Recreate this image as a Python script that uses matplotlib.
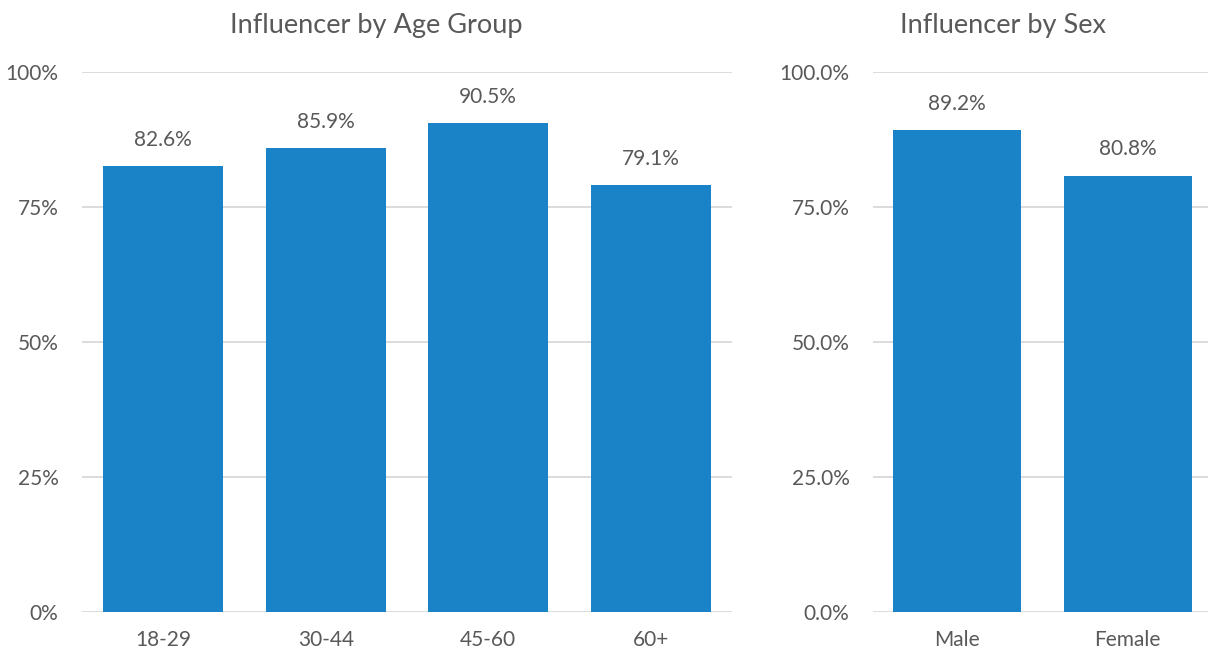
import matplotlib.pyplot as plt
from matplotlib.ticker import FuncFormatter

# data
age_groups = ['18-29', '30-44', '45-60', '60+']
age_values = [82.6, 85.9, 90.5, 79.1]
sexes = ['Male', 'Female']
sex_values = [89.2, 80.8]

BAR = '#1a82c6'
TXT = '#595959'
GRID = '#d9d9d9'

plt.rcParams['font.family'] = ['Lato', 'DejaVu Sans']

W, H = 1209, 651
fig = plt.figure(figsize=(W / 100, H / 100), dpi=100)


def px_axes(x0, x1, y0, y1):
    return fig.add_axes([x0 / W, 1 - y1 / H, (x1 - x0) / W, (y1 - y0) / H])


def style(ax, fmt):
    ax.set_ylim(0, 100)
    ax.set_yticks([0, 25, 50, 75, 100])
    ax.yaxis.set_major_formatter(FuncFormatter(fmt))
    ax.grid(axis='y', color=GRID, linewidth=1.3)
    ax.set_axisbelow(True)
    for s in ax.spines.values():
        s.set_visible(False)
    ax.tick_params(length=0, labelsize=15, labelcolor=TXT)
    ax.tick_params(axis='y', pad=17)
    ax.tick_params(axis='x', pad=13)


def labels(ax, xs, vals):
    for x, v in zip(xs, vals):
        ax.text(x, v + 3, f'{v:.1f}%', ha='center', va='bottom',
                fontsize=15, color=TXT)


# left panel: age group
ax1 = px_axes(82, 732, 72, 612)
x1 = range(len(age_groups))
ax1.bar(x1, age_values, width=0.74, color=BAR)
ax1.set_xticks(list(x1))
ax1.set_xticklabels(age_groups)
ax1.set_xlim(-0.5, 3.5)
style(ax1, lambda v, p: f'{v:.0f}%')
labels(ax1, x1, age_values)

# right panel: sex
ax2 = px_axes(873, 1208, 72, 612)
x2 = range(len(sexes))
ax2.bar(x2, sex_values, width=0.75, color=BAR)
ax2.set_xticks(list(x2))
ax2.set_xticklabels(sexes)
ax2.set_xlim(-0.49, 1.47)
style(ax2, lambda v, p: f'{v:.1f}%')
labels(ax2, x2, sex_values)

# titles
fig.text(376 / W, 1 - 25 / H, 'Influencer by Age Group', ha='center',
         va='center', fontsize=19.5, color=TXT)
fig.text(1003 / W, 1 - 25 / H, 'Influencer by Sex', ha='center',
         va='center', fontsize=19.5, color=TXT)

fig.savefig('out.png', dpi=100)
